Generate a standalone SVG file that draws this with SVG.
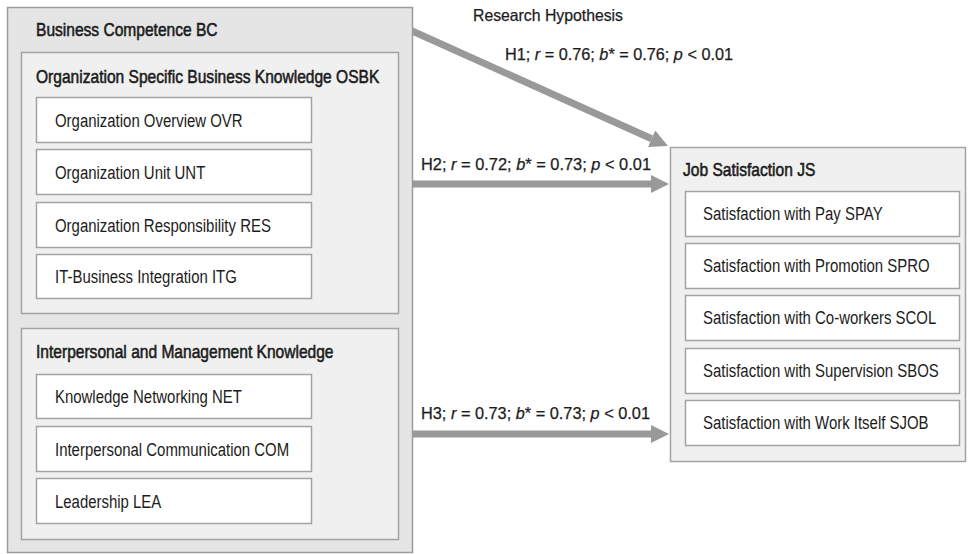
<svg xmlns="http://www.w3.org/2000/svg" width="969" height="554" viewBox="0 0 969 554">
<style>
text{font-family:"Liberation Sans",Arial,sans-serif;fill:#1c1c1c}
.t{font-size:19px}
.ti{font-size:17.5px;fill:#1c1c1c;stroke:#1c1c1c;stroke-width:0.55px}
.lbl{font-size:16.5px;stroke:#1c1c1c;stroke-width:0.25px}
.outer{fill:#e5e5e5;stroke:#9c9c9c;stroke-width:1.5}
.group{fill:#f0f0f0;stroke:#a3a3a3;stroke-width:1.5}
.item{fill:#fff;stroke:#a3a3a3;stroke-width:1.5}
.conn{stroke:#999;stroke-width:7;fill:none}
</style>
<defs>
<marker id="ah" markerUnits="userSpaceOnUse" markerWidth="20" markerHeight="18" refX="0" refY="9" orient="auto">
<path d="M0,0 L18,9 L0,18 z" fill="#999"/>
</marker>
</defs>
<g id="connectors">
<line class="conn" x1="410" y1="30" x2="651.6" y2="138.7" marker-end="url(#ah)"/>
<line class="conn" x1="412" y1="184" x2="651" y2="184" marker-end="url(#ah)"/>
<line class="conn" x1="412" y1="434" x2="651" y2="434" marker-end="url(#ah)"/>
<text class="lbl" x="473" y="21" textLength="150" lengthAdjust="spacingAndGlyphs">Research Hypothesis</text>
<text class="lbl" x="505" y="60" textLength="228" lengthAdjust="spacingAndGlyphs">H1; <tspan font-style="italic">r</tspan> = 0.76; <tspan font-style="italic">b</tspan>* = 0.76; <tspan font-style="italic">p</tspan> &lt; 0.01</text>
<text class="lbl" x="421" y="170" textLength="230" lengthAdjust="spacingAndGlyphs">H2; <tspan font-style="italic">r</tspan> = 0.72; <tspan font-style="italic">b</tspan>* = 0.73; <tspan font-style="italic">p</tspan> &lt; 0.01</text>
<text class="lbl" x="421" y="419" textLength="229" lengthAdjust="spacingAndGlyphs">H3; <tspan font-style="italic">r</tspan> = 0.73; <tspan font-style="italic">b</tspan>* = 0.73; <tspan font-style="italic">p</tspan> &lt; 0.01</text>
</g>
<g id="BC">
<rect class="outer" x="7.5" y="7.5" width="405" height="545"/>
<text class="ti" transform="translate(36,36) scale(0.89,1)">Business Competence BC</text>
</g>
<g id="OSBK">
<rect class="group" x="21.5" y="52.5" width="377" height="261"/>
<text class="ti" transform="translate(36,83) scale(0.89,1)">Organization Specific Business Knowledge OSBK</text>
</g>
<g id="OVR"><rect class="item" x="36.5" y="97.5" width="275" height="45"/><text class="t" transform="translate(55,127) scale(0.787,1)">Organization Overview OVR</text></g>
<g id="UNT"><rect class="item" x="36.5" y="149.5" width="275" height="45"/><text class="t" transform="translate(55,179) scale(0.787,1)">Organization Unit UNT</text></g>
<g id="RES"><rect class="item" x="36.5" y="202.5" width="275" height="45"/><text class="t" transform="translate(55,232) scale(0.787,1)">Organization Responsibility RES</text></g>
<g id="ITG"><rect class="item" x="36.5" y="254.5" width="275" height="44"/><text class="t" transform="translate(55,283) scale(0.787,1)">IT-Business Integration ITG</text></g>
<g id="IMK">
<rect class="group" x="21.5" y="328.5" width="377" height="211"/>
<text class="ti" transform="translate(36,358) scale(0.89,1)">Interpersonal and Management Knowledge</text>
</g>
<g id="NET"><rect class="item" x="36.5" y="374.5" width="275" height="44"/><text class="t" transform="translate(55,403) scale(0.787,1)">Knowledge Networking NET</text></g>
<g id="COM"><rect class="item" x="36.5" y="426.5" width="275" height="45"/><text class="t" transform="translate(55,456) scale(0.787,1)">Interpersonal Communication COM</text></g>
<g id="LEA"><rect class="item" x="36.5" y="478.5" width="275" height="45"/><text class="t" transform="translate(55,508) scale(0.787,1)">Leadership LEA</text></g>
<g id="JS">
<rect class="group" x="670.5" y="147.5" width="295" height="314"/>
<text class="ti" transform="translate(683,176) scale(0.89,1)">Job Satisfaction JS</text>
</g>
<g id="SPAY"><rect class="item" x="685.5" y="191.5" width="274" height="45"/><text class="t" transform="translate(703,220) scale(0.787,1)">Satisfaction with Pay SPAY</text></g>
<g id="SPRO"><rect class="item" x="685.5" y="243.5" width="274" height="45"/><text class="t" transform="translate(703,272) scale(0.787,1)">Satisfaction with Promotion SPRO</text></g>
<g id="SCOL"><rect class="item" x="685.5" y="295.5" width="274" height="45"/><text class="t" transform="translate(703,324) scale(0.787,1)">Satisfaction with Co-workers SCOL</text></g>
<g id="SBOS"><rect class="item" x="685.5" y="348.5" width="274" height="45"/><text class="t" transform="translate(703,377) scale(0.787,1)">Satisfaction with Supervision SBOS</text></g>
<g id="SJOB"><rect class="item" x="685.5" y="400.5" width="274" height="45"/><text class="t" transform="translate(703,429) scale(0.787,1)">Satisfaction with Work Itself SJOB</text></g>
</svg>
